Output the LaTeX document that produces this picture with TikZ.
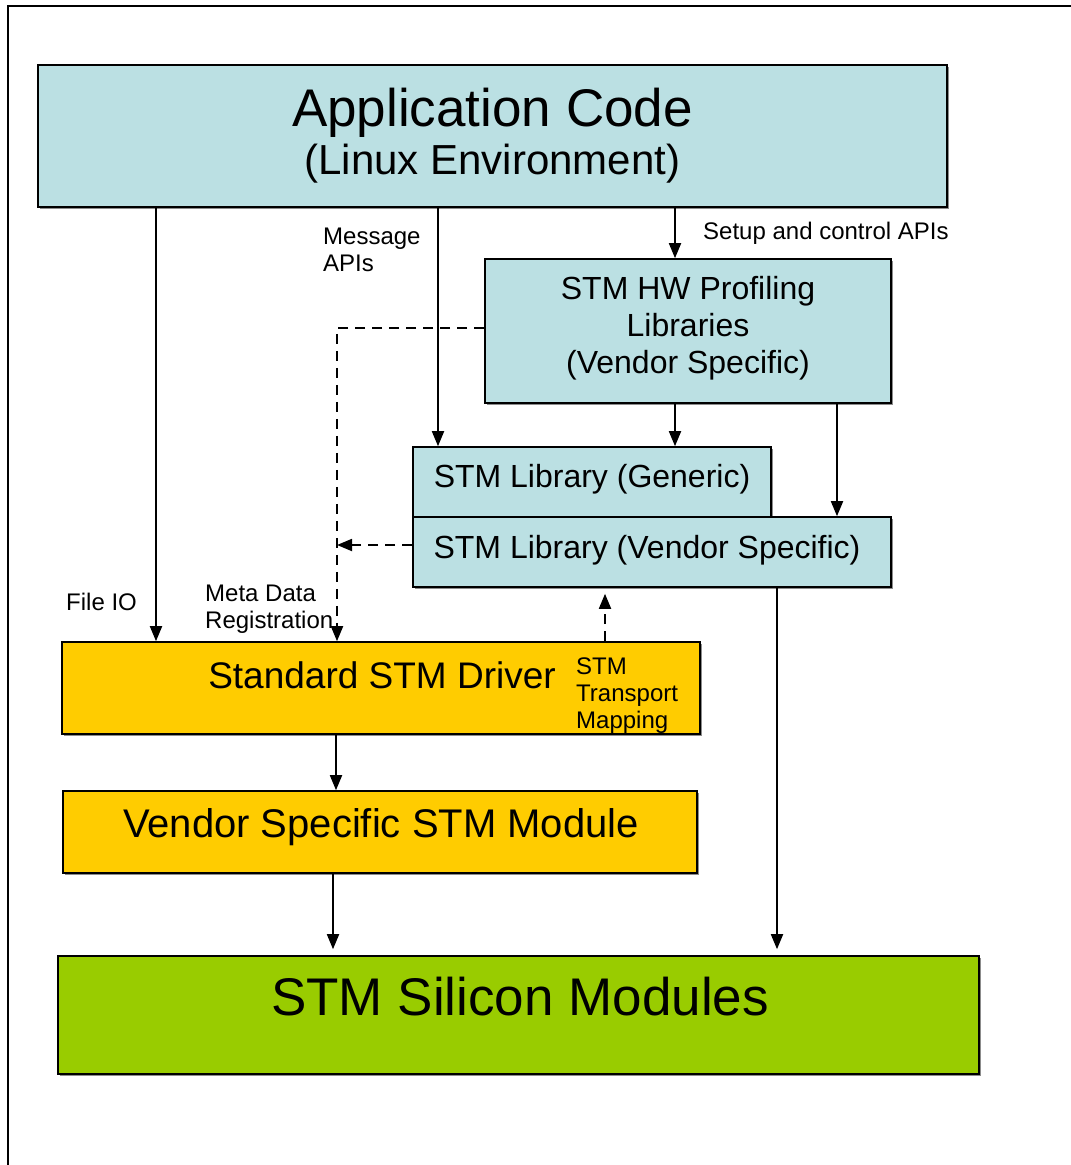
\documentclass[tikz,border=0pt]{standalone}
\usepackage{fontspec}
\setmainfont{Liberation Sans}
\usetikzlibrary{arrows.meta,shadows}

\definecolor{libblue}{HTML}{BBE0E3}
\definecolor{drvgold}{HTML}{FFCC00}
\definecolor{silgreen}{HTML}{99CC00}
\newcommand{\fsz}[2]{\fontsize{#1}{#2}\selectfont}

\begin{document}
\begin{tikzpicture}[x=1pt,y=-1pt,
      every node/.style={inner sep=0pt},
      box/.style={draw,line width=1.6pt,align=center,
                  drop shadow={shadow xshift=2pt,shadow yshift=-2pt,fill=black!45,opacity=1}},
      lbl/.style={anchor=west,align=left,font=\fsz{24}{27}},
      arr/.style={-{Triangle[length=15pt,width=12pt]},line width=1.8pt},
      darr/.style={arr,dash pattern=on 10pt off 7pt},
    ]
      \useasboundingbox (0,0) rectangle (1071,1165);
      \draw[line width=2pt] (8,1165) -- (8,6) -- (1071,6);

      % boxes
      \node[box,fill=libblue,minimum width=909pt,minimum height=142pt,font=\fsz{53}{48}]
            (app) at (492.5,136) {Application Code\\{\fsz{42}{48}(Linux Environment)}};
      \node[box,fill=libblue,minimum width=406pt,minimum height=144pt] (hw) at (688,331) {};
      \node[align=center,font=\fsz{32}{37}] (hwtxt) at (688,328)
            {STM HW Profiling\\Libraries\\(Vendor Specific)};
      \node[box,fill=libblue,minimum width=358pt,minimum height=70pt] (gen) at (592,482) {};
      \node[font=\fsz{32}{37}] (gentxt) at (592,479) {STM Library (Generic)};
      \node[box,fill=libblue,minimum width=478pt,minimum height=70pt] (vs) at (652,552) {};
      \node[font=\fsz{32}{37}] (vstxt) at (647,550) {STM Library (Vendor Specific)};
      \node[box,fill=drvgold,minimum width=638pt,minimum height=92pt] (drv) at (381,688) {};
      \node[font=\fsz{37}{40}] (drvtxt) at (382,675) {Standard STM Driver};
      \node[box,fill=drvgold,minimum width=634pt,minimum height=82pt] (vm) at (380,832) {};
      \node[font=\fsz{40}{44}] (vmtxt) at (381,827) {Vendor Specific STM Module};
      \node[box,fill=silgreen,minimum width=921pt,minimum height=118pt] (sil) at (518.5,1015) {};
      \node[font=\fsz{53}{56}] (siltxt) at (520,997) {STM Silicon Modules};

      % labels
      \node[lbl] (setuplbl) at (703,233)   {Setup and control APIs};
      \node[lbl] (msglbl)   at (323,249.5) {Message\\APIs};
      \node[lbl] (filelbl)  at (66,602)    {File IO};
      \node[lbl] (metalbl)  at (205,609.5) {Meta Data\\Registration};
      \node[lbl] (maplbl)   at (576,696)   {STM\\Transport\\Mapping};

      % connector columns
      \coordinate (xfile)  at (156,0);
      \coordinate (xmsg)   at (438,0);
      \coordinate (xsetup) at (675,0);
      \coordinate (xhw)    at (837,0);
      \coordinate (xmeta)  at (337,0);
      \coordinate (xmap)   at (605,0);
      \coordinate (xdrv)   at (336,0);
      \coordinate (xvm)    at (333,0);
      \coordinate (xsil)   at (777,0);

      \draw[arr] (app.south -| xfile) -- (drv.north -| xfile);
      \draw[arr] (app.south -| xmsg) -- (gen.north -| xmsg);
      \draw[arr] (app.south -| xsetup) -- (hw.north -| xsetup);
      \draw[arr] (hw.south -| xsetup) -- (gen.north -| xsetup);
      \draw[arr] (hw.south -| xhw) -- (vs.north -| xhw);
      \draw[darr] ([yshift=3pt]hw.west) -| (drv.north -| xmeta);
      \draw[darr] ([yshift=7pt]vs.west) -- ([yshift=7pt]vs.west -| xmeta);
      \draw[darr,shorten >=6pt] (drv.north -| xmap) -- (vs.south -| xmap);
      \draw[arr] (drv.south -| xdrv) -- (vm.north -| xdrv);
      \draw[arr,shorten >=6pt] (vm.south -| xvm) -- (sil.north -| xvm);
      \draw[arr,shorten >=6pt] (vs.south -| xsil) -- (sil.north -| xsil);
    \end{tikzpicture}
\end{document}
